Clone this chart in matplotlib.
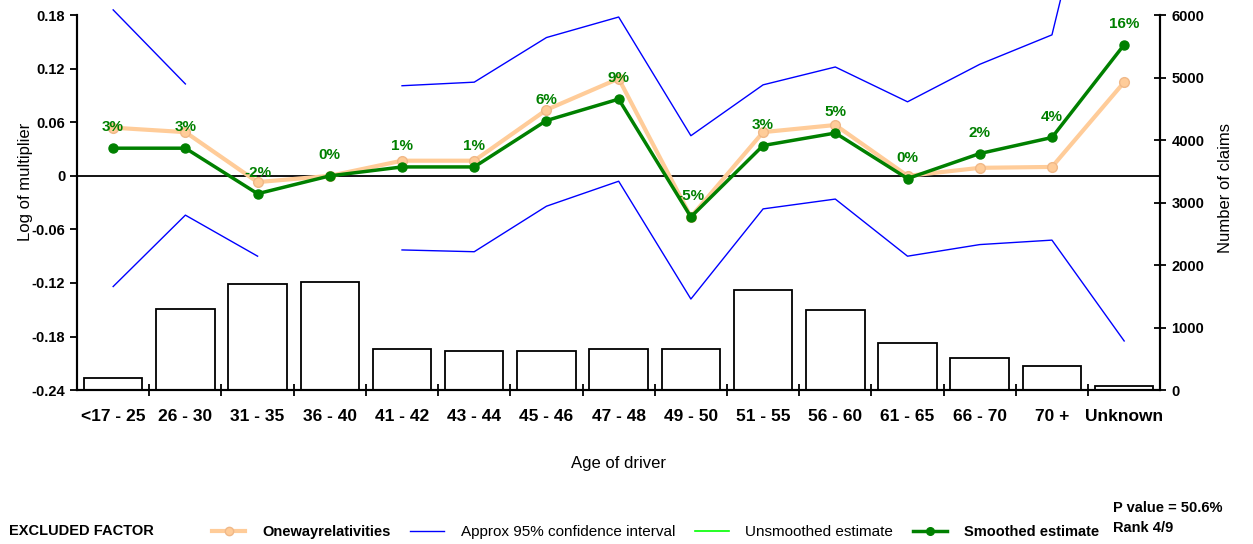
import matplotlib.pyplot as plt
import numpy as np
from matplotlib.lines import Line2D

plt.rcParams['font.family'] = ['Liberation Sans', 'DejaVu Sans']

ages = ['<17 - 25', '26 - 30', '31 - 35', '36 - 40', '41 - 42', '43 - 44', '45 - 46',
        '47 - 48', '49 - 50', '51 - 55', '56 - 60', '61 - 65', '66 - 70', '70 +', 'Unknown']
claims = [190, 1300, 1700, 1730, 656, 624, 624, 656, 656, 1600, 1280, 752, 512, 384, 64]
oneway = [0.054, 0.049, -0.007, 0.0, 0.017, 0.017, 0.074, 0.109, -0.046, 0.049, 0.057,
          0.0, 0.009, 0.010, 0.105]
smoothed = [0.031, 0.031, -0.020, 0.0, 0.010, 0.010, 0.062, 0.086, -0.046, 0.034, 0.048,
            -0.003, 0.025, 0.043, 0.147]
ci_upper = [0.186, 0.103, np.nan, np.nan, 0.101, 0.105, 0.155, 0.178, 0.045, 0.102, 0.122,
            0.083, 0.125, 0.158, 0.49]
ci_lower = [-0.124, -0.044, -0.090, np.nan, -0.083, -0.085, -0.034, -0.006, -0.138, -0.037,
            -0.026, -0.090, -0.077, -0.072, -0.185]
pct_labels = ['3%', '3%', '-2%', '0%', '1%', '1%', '6%', '9%', '-5%', '3%', '5%', '0%',
              '2%', '4%', '16%']
yticks = [0.18, 0.12, 0.06, 0, -0.06, -0.12, -0.18, -0.24]
ytick_labels = ['0.18', '0.12', '0.06', '0', '-0.06', '-0.12', '-0.18', '-0.24']

x = np.arange(len(ages))

fig = plt.figure(figsize=(12.53, 5.44), dpi=100)
ax = fig.add_axes([0.0615, 0.283, 0.8645, 0.689])
ax2 = ax.twinx()
ax.set_zorder(ax2.get_zorder() + 1)
ax.patch.set_visible(False)

# claim counts as bars on the right axis
ax2.bar(x, claims, width=0.81, facecolor='white', edgecolor='black', linewidth=1.3)
ax2.set_ylim(0, 6000)
ax2.set_yticks(range(0, 6001, 1000))
ax2.set_ylabel('Number of claims', fontsize=12)
ax2.yaxis.set_label_coords(1.053, 0.54)

ax.axhline(0, color='black', lw=1.3, zorder=1)
ax.plot(x, ci_upper, color='blue', lw=1, clip_on=False)
ax.plot(x, ci_lower, color='blue', lw=1, clip_on=False)
ax.plot(x, oneway, color='#FFCC99', lw=3, marker='o', ms=7, mfc='#FFCC99', mec='#F0B888')
ax.plot(x, smoothed, color='#008000', lw=2.5, marker='o', ms=6.5)
for xi, yi, lab in zip(x, smoothed, pct_labels):
    ax.annotate(lab, (xi, yi), xytext=(0, 15), textcoords='offset points', ha='center',
                va='center', color='#008000', fontsize=11, fontweight='bold')

ax.set_xlim(-0.5, len(ages) - 0.5)
ax.set_ylim(-0.24, 0.18)
ax.set_yticks(yticks)
ax.set_yticklabels(ytick_labels)
ax.set_xticks(x)
ax.set_xticklabels(ages, fontsize=12.5, fontweight='bold')
ax.set_xticks(np.arange(0.5, len(ages) - 1, 1), minor=True)
ax.tick_params(axis='x', which='major', length=0, pad=14)
ax.tick_params(axis='x', which='minor', direction='inout', length=9, width=1.3)
ax.tick_params(axis='y', direction='out', length=5, width=1.3, labelsize=10.5)
ax2.tick_params(axis='y', direction='inout', length=9, width=1.3, labelsize=10.5)
for lab in ax.get_yticklabels() + ax2.get_yticklabels():
    lab.set_fontweight('bold')
for a in (ax, ax2):
    a.spines['top'].set_visible(False)
    for s in ('left', 'right', 'bottom'):
        a.spines[s].set_linewidth(1.5)
ax.set_ylabel('Log of multiplier', fontsize=12)
ax.yaxis.set_label_coords(-0.041, 0.555)
ax.set_xlabel('Age of driver', fontsize=12, labelpad=23)

handles = [
    Line2D([], [], color='#FFCC99', lw=3, marker='o', ms=6, mfc='#FFCC99', mec='#F0B888'),
    Line2D([], [], color='blue', lw=1),
    Line2D([], [], color='#00FF00', lw=1.2),
    Line2D([], [], color='#008000', lw=2.5, marker='o', ms=5.5),
]
labels = ['Onewayrelativities', 'Approx 95% confidence interval', 'Unsmoothed estimate',
          'Smoothed estimate']
leg = fig.legend(handles, labels, ncol=4, loc='center left', bbox_to_anchor=(0.158, 0.022),
                 frameon=False, fontsize=11, handlelength=2.2, handletextpad=1.1,
                 columnspacing=1.3)
for i in (0, 3):
    leg.get_texts()[i].set_fontweight('bold')
    leg.get_texts()[i].set_fontsize(10.5)
fig.text(0.007, 0.023, 'EXCLUDED FACTOR', fontsize=10.5, fontweight='bold', va='center')
fig.text(0.888, 0.066, 'P value = 50.6%', fontsize=10.5, fontweight='bold', va='center')
fig.text(0.888, 0.030, 'Rank 4/9', fontsize=10.5, fontweight='bold', va='center')

fig.savefig('out.png', dpi=100)
